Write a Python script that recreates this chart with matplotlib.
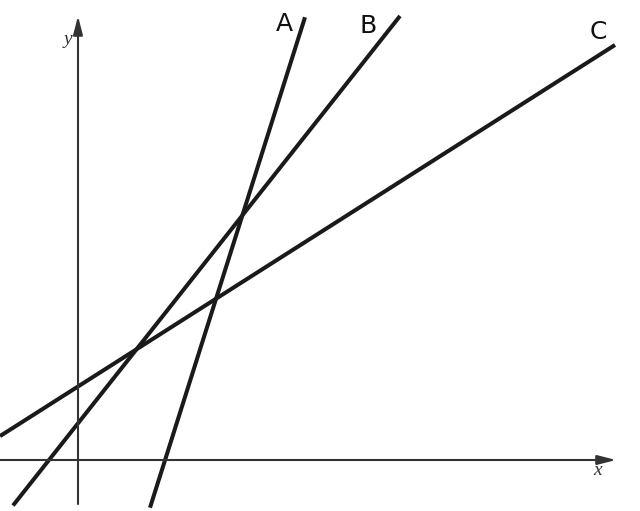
import matplotlib
matplotlib.use('Agg')
import matplotlib.pyplot as plt
import numpy as np

# lines y = m*x + b, drawn between x_start and x_end
names = ['A', 'B', 'C']
slopes = [3.164, 1.265, 0.636]
intercepts = [-5.51, 0.734, 1.47]
x_start = [1.44, -1.30, -1.56]
x_end = [4.54, 6.44, 10.74]
label_pos = [(4.12, 8.72), (5.80, 8.68), (10.40, 8.56)]

fig = plt.figure(figsize=(6.4, 5.11), dpi=100)
ax = fig.add_axes([0, 0, 1, 1])
ax.set_xlim(-1.56, 11.24)
ax.set_ylim(-1.02, 9.2)
ax.axis('off')

# coordinate axes with arrows
axis_col = '#333333'
arrow = dict(arrowstyle='-|>,head_length=0.7,head_width=0.18', lw=1.5,
             color=axis_col, mutation_scale=16, shrinkA=0, shrinkB=0)
ax.annotate('', xy=(0, 8.88), xytext=(0, -0.88), arrowprops=arrow)
ax.annotate('', xy=(10.76, 0), xytext=(-1.56, 0), arrowprops=arrow)
ax.text(-0.2, 8.4, 'y', fontsize=14, family='Liberation Serif', style='italic',
        ha='center', va='center', color=axis_col)
ax.text(10.4, -0.2, 'x', fontsize=14, family='Liberation Serif', style='italic',
        ha='center', va='center', color=axis_col)

for n, m, b, x0, x1, (lx, ly) in zip(names, slopes, intercepts, x_start, x_end, label_pos):
    xs = np.array([x0, x1])
    ax.plot(xs, m * xs + b, color='#1a1a1a', lw=2.9, solid_capstyle='butt')
    ax.text(lx, ly, n, fontsize=18, ha='center', va='center', color='#111111')

fig.savefig('out.png', dpi=100)
